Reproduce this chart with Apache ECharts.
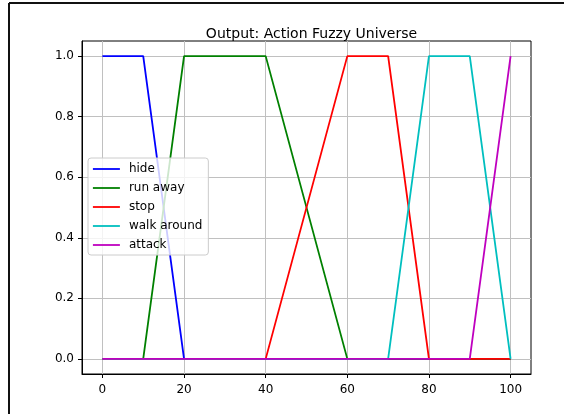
<!DOCTYPE html>
<html>
<head>
<meta charset="utf-8">
<script src="https://cdn.jsdelivr.net/npm/echarts@6/dist/echarts.min.js"></script>
<style>
html,body{margin:0;padding:0;background:#fff;}
#c{width:564px;height:414px;}
</style>
</head>
<body>
<div id="c"></div>
<script>
const titleText = 'Output: Action Fuzzy Universe';
const seriesNames = ['hide', 'run away', 'stop', 'walk around', 'attack'];
const hideX = [0, 10, 20, 100];
const hideY = [1, 1, 0, 0];
const runAwayX = [0, 10, 20, 40, 60, 100];
const runAwayY = [0, 0, 1, 1, 0, 0];
const stopX = [0, 40, 60, 70, 80, 100];
const stopY = [0, 0, 1, 1, 0, 0];
const walkAroundX = [0, 70, 80, 90, 100];
const walkAroundY = [0, 0, 1, 1, 0];
const attackX = [0, 90, 100];
const attackY = [0, 0, 1];
const xTicks = [0, 20, 40, 60, 80, 100];
const yTicks = [0, 0.2, 0.4, 0.6, 0.8, 1.0];

const colors = ['#0000ff', '#008000', '#ff0000', '#00bfbf', '#bf00bf'];
const xs = [hideX, runAwayX, stopX, walkAroundX, attackX];
const ys = [hideY, runAwayY, stopY, walkAroundY, attackY];

const font = 'DejaVu Sans';
const chart = echarts.init(document.getElementById('c'));
chart.setOption({
  animation: false,
  backgroundColor: '#ffffff',
  title: {
    text: titleText,
    left: 306.5, textAlign: 'center', top: 22,
    textStyle: {fontFamily: font, fontSize: 14, fontWeight: 'normal', color: '#000'}
  },
  grid: {left: 82, top: 41, width: 449, height: 333, containLabel: false, outerBoundsMode: 'none',
    show: true, borderColor: '#000', borderWidth: 1, backgroundColor: 'transparent'},
  legend: {
    orient: 'vertical', left: 88, top: 158,
    data: seriesNames,
    itemWidth: 27, itemHeight: 14, itemGap: 5,
    padding: [4, 6, 3, 4],
    borderColor: '#cccccc', borderWidth: 1, borderRadius: 3,
    backgroundColor: 'rgba(255,255,255,0.8)',
    itemStyle: {opacity: 0},
    lineStyle: {width: 1.8},
    textStyle: {fontFamily: font, fontSize: 12, color: '#000', lineHeight: 14, padding: [0, 0, 0, 4]}
  },
  xAxis: {
    type: 'value', min: -5, max: 105,
    axisLine: {show: true, onZero: false, lineStyle: {color: '#000', width: 1}},
    axisTick: {show: true, length: 4, customValues: xTicks, lineStyle: {color: '#000'}},
    axisLabel: {customValues: xTicks, margin: 10, fontFamily: font, fontSize: 12, color: '#000'},
    splitLine: {show: true, lineStyle: {color: '#c0c0c0', width: 1}}
  },
  yAxis: {
    type: 'value', min: -0.05, max: 1.05,
    axisLine: {show: true, onZero: false, lineStyle: {color: '#000', width: 1}},
    axisTick: {show: true, length: 4, customValues: yTicks, lineStyle: {color: '#000'}},
    axisLabel: {customValues: yTicks, margin: 8, fontFamily: font, fontSize: 12, color: '#000',
      formatter: v => v.toFixed(1)},
    splitLine: {show: true, lineStyle: {color: '#c0c0c0', width: 1}}
  },
  series: seriesNames.map((n, i) => ({
    name: n, type: 'line', symbol: 'none', showSymbol: false,
    color: colors[i],
    lineStyle: {color: colors[i], width: 1.8},
    data: xs[i].map((x, j) => [x, ys[i][j]])
  })),
  graphic: [
    {type: 'line', shape: {x1: 9, y1: 3, x2: 564, y2: 3}, style: {stroke: '#111', lineWidth: 2}},
    {type: 'line', shape: {x1: 9, y1: 3, x2: 9, y2: 414}, style: {stroke: '#111', lineWidth: 2}}
  ]
});
</script>
</body>
</html>
